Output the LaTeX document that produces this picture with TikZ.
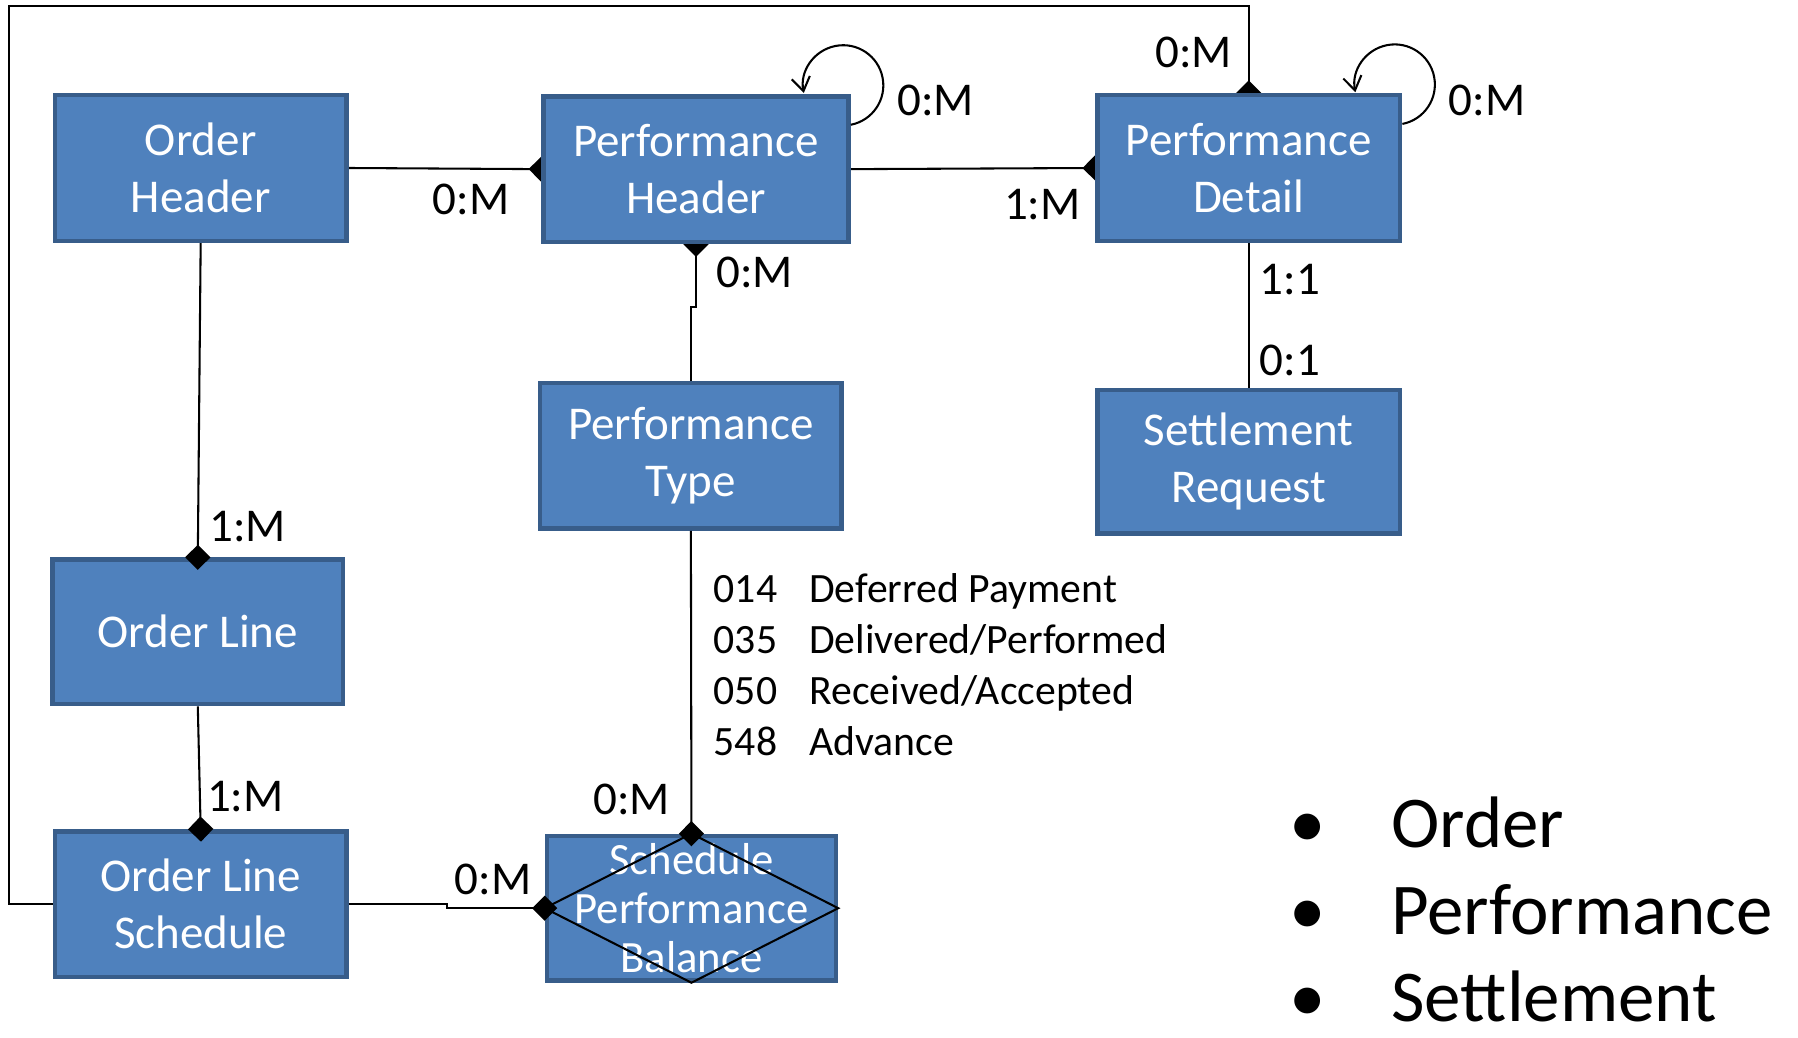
\documentclass[tikz,border=0pt]{standalone}
\usepackage{fontspec}
\setmainfont{Carlito}
\usetikzlibrary{arrows.meta}
\pgfdeclarelayer{background}
\pgfsetlayers{background,main}
\definecolor{boxfill}{RGB}{79,129,189}
\definecolor{boxline}{RGB}{56,93,138}

\begin{document}
\begin{tikzpicture}[x=0.5pt,y=-0.5pt]
  \tikzstyle{entity}=[rectangle, draw=boxline, line width=2pt, fill=boxfill, text=white, align=center, inner sep=0pt, minimum height=63.5pt, font=\fontsize{20.5}{25}\selectfont]
  \tikzstyle{link}=[line width=0.9pt]
  \tikzstyle{many}=[-{Diamond[length=11pt,width=11pt]}, shorten >=-5.5pt]
  \tikzstyle{card}=[inner sep=0pt, font=\fontsize{20.5}{25}\selectfont]
  \tikzstyle{selfloop}=[line width=0.9pt, -{Straight Barb[length=6pt,width=8pt]}]
  \tikzstyle{legend}=[inner sep=0pt, anchor=base west, font=\fontsize{31.8}{38}\selectfont]

  \useasboundingbox (0,0) rectangle (1568,905);

  \node[entity, minimum width=127pt] (oh)  at (175,   146.5) {Order\\Header};
  \node[entity, minimum width=133pt] (ph)  at (607,   147.5) {Performance\\Header};
  \node[entity, minimum width=132pt] (pd)  at (1089,  146.5) {Performance\\Detail};
  \node[entity, minimum width=131.5pt] (pt) at (602.5, 397.5) {Performance\\Type};
  \node[entity, minimum width=132pt, minimum height=62.5pt] (sr) at (1089, 402.5) {Settlement\\Request};
  \node[entity, minimum width=126.5pt, minimum height=63pt] (ol) at (172.5, 551) {Order Line};
  \node[entity, minimum width=127pt] (ols) at (175,   788.5) {Order Line\\Schedule};
  \node[entity, minimum width=126pt, minimum height=63pt, font=\fontsize{19.5}{21.3}\selectfont] (spb) at (603, 792) {Schedule\\Performance\\Balance};
  \draw[link] (spb.west) -- (spb.north) -- (spb.east) -- (spb.south) -- cycle;

  \begin{pgfonlayer}{background}
    \draw[link, many] (oh.east) -- (ph.west);
    \draw[link, many] (ph.east) -- (pd.west);
    \draw[link, many] (pt.north) -- ++(0,-64) -| (ph.south);
    \draw[link, many] (ols.west) -| (8,5) -| (pd.north);
  \end{pgfonlayer}

  \draw[link] (pd.south) -- (sr.north);
  \draw[link, many] (oh.south) -- (ol.north);
  \draw[link, many] (ol.south) -- (ols.north);
  \draw[link, many] (ols.east) -- ++(86,0) |- (spb.west);
  \draw[link, many] (pt.south) -- (spb.north);

  \draw[selfloop] (ph.16.5) arc[start angle=-79, end angle=191, radius=17.5pt];
  \draw[selfloop] (pd.16.3) arc[start angle=-79, end angle=191, radius=17.5pt];

  \node[card] (c1)  at (411,  174) {0:M};
  \node[card] (c2)  at (909,  178) {1:M};
  \node[card] (c3)  at (816,   88) {0:M};
  \node[card] (c4)  at (1297,  88) {0:M};
  \node[card] (c5)  at (1041,  46) {0:M};
  \node[card] (c6)  at (658,  238) {0:M};
  \node[card] (c7)  at (1125, 244) {1:1};
  \node[card] (c8)  at (1125, 314) {0:1};
  \node[card] (c9)  at (216,  459) {1:M};
  \node[card] (c10) at (214,  695) {1:M};
  \node[card] (c11) at (551,  697) {0:M};
  \node[card] (c12) at (430,  767) {0:M};

  \node[anchor=base west, inner sep=0pt, font=\fontsize{18.2}{22.3}\selectfont] (codes) at (622, 525)
    {\begin{tabular}[t]{@{}l@{\hspace{14pt}}l@{}}
      014 & Deferred Payment\\
      035 & Delivered/Performed\\
      050 & Received/Accepted\\
      548 & Advance
    \end{tabular}};

  \node[legend, anchor=base] (b1) at (1140, 739) {\textbullet};
  \node[legend, anchor=base] (b2) at (1140, 815) {\textbullet};
  \node[legend, anchor=base] (b3) at (1140, 891) {\textbullet};
  \node[legend] (korder)  at (1213, 739) {Order};
  \node[legend] (kperf)   at (1213, 815) {Performance};
  \node[legend] (ksettle) at (1213, 891) {Settlement};

\end{tikzpicture}
\end{document}
